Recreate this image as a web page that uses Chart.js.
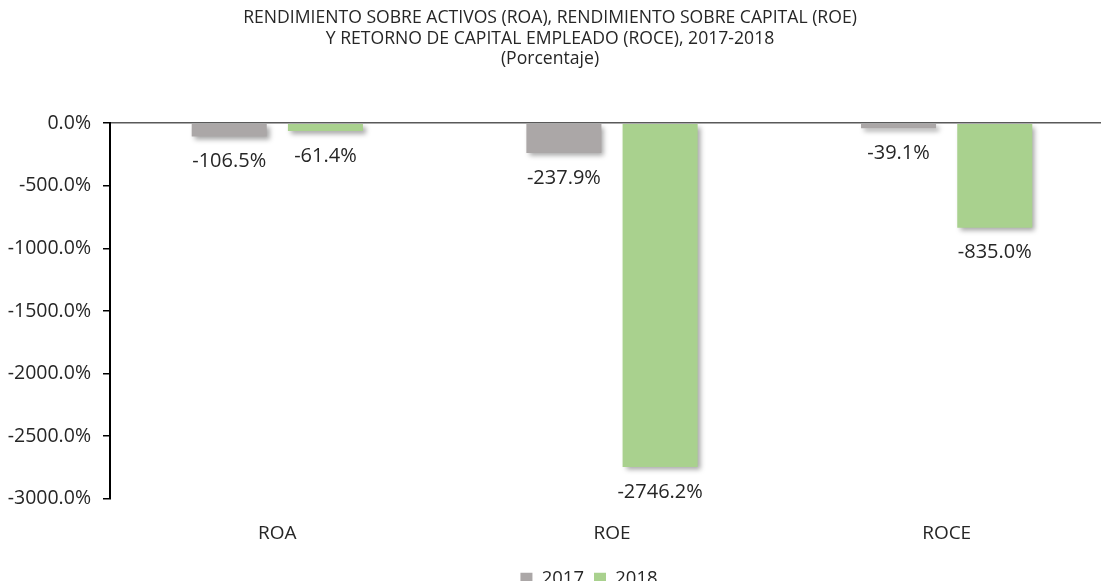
<!DOCTYPE html>
<html>
<head>
<meta charset="utf-8">
<script src="https://cdn.jsdelivr.net/npm/chart.js@4"></script>
<style>
  html, body { margin: 0; padding: 0; background: #fff; overflow: hidden; }
  .wrap { width: 1101px; height: 581px; overflow: hidden; }
  .box { width: 1116px; height: 598px; position: relative; }
</style>
</head>
<body>
<div class="wrap"><div class="box"><canvas id="roaChart"></canvas></div></div>
<script>
// chart data
const categories = ['ROA', 'ROE', 'ROCE'];
const seriesNames = ['2017', '2018'];
const values2017 = [-106.5, -237.9, -39.1];
const values2018 = [-61.4, -2746.2, -835.0];
const yTicks = [0, -500, -1000, -1500, -2000, -2500, -3000];

const titleLines = [
    'RENDIMIENTO SOBRE ACTIVOS (ROA), RENDIMIENTO SOBRE CAPITAL (ROE)',
    'Y RETORNO DE CAPITAL EMPLEADO (ROCE), 2017-2018',
    '(Porcentaje)'
];

const FONT = "'Open Sans', sans-serif";
const TEXT = '#262626';

// shadow under the bars + value labels below each bar
const barExtras = {
    id: 'barExtras',
    beforeDatasetsDraw(chart) {
        const ctx = chart.ctx;
        ctx.save();
        ctx.shadowColor = 'rgba(0, 0, 0, 0.35)';
        ctx.shadowBlur = 5;
        ctx.shadowOffsetX = 3;
        ctx.shadowOffsetY = 3;
    },
    afterDatasetsDraw(chart) {
        const ctx = chart.ctx;
        ctx.restore();
        ctx.save();
        ctx.font = '20px ' + FONT;
        ctx.fillStyle = TEXT;
        ctx.textAlign = 'center';
        ctx.textBaseline = 'middle';
        chart.data.datasets.forEach((ds, i) => {
            chart.getDatasetMeta(i).data.forEach((bar, j) => {
                ctx.fillText(ds.data[j].toFixed(1) + '%', bar.x, bar.y + 25);
            });
        });
        ctx.restore();
    }
};

// title and legend are not centred on the same x in the original
const nudgeBoxes = {
    id: 'nudgeBoxes',
    afterLayout(chart) {
        chart.titleBlock.left -= 11;
        chart.titleBlock.right -= 11;
        chart.legend.left += 28;
        chart.legend.right += 28;
    }
};

const ctx = document.getElementById('roaChart').getContext('2d');
new Chart(ctx, {
    type: 'bar',
    data: {
        labels: categories,
        datasets: [{
            label: seriesNames[0],
            data: values2017,
            backgroundColor: '#aba7a7',
            barPercentage: 0.78,
            categoryPercentage: 0.575
        }, {
            label: seriesNames[1],
            data: values2018,
            backgroundColor: '#a9d18e',
            barPercentage: 0.78,
            categoryPercentage: 0.575
        }]
    },
    options: {
        responsive: true,
        maintainAspectRatio: false,
        animation: false,
        layout: {
            padding: { left: 8, right: 2, top: 0, bottom: 0 }
        },
        plugins: {
            title: {
                display: true,
                text: titleLines,
                color: TEXT,
                font: { family: FONT, size: 17.6, weight: 'normal', lineHeight: 1.16 },
                padding: { top: 8, bottom: 54 }
            },
            legend: {
                position: 'bottom',
                labels: {
                    color: TEXT,
                    boxWidth: 12,
                    boxHeight: 12,
                    padding: 10,
                    font: { family: FONT, size: 18.5 }
                }
            },
            tooltip: { enabled: false }
        },
        scales: {
            x: {
                grid: { display: false },
                border: { display: false },
                ticks: {
                    color: TEXT,
                    padding: 15,
                    font: { family: FONT, size: 19 }
                }
            },
            y: {
                min: -3000,
                max: 0,
                afterBuildTicks: scale => {
                    scale.ticks = yTicks.map(v => ({ value: v }));
                },
                afterFit: scale => { scale.width = 102; },
                border: { color: '#000', width: 2 },
                grid: {
                    drawOnChartArea: true,
                    tickLength: 7,
                    tickColor: '#000',
                    lineWidth: 1.5,
                    color: c => (c.tick && c.tick.value === 0) ? '#595959' : 'rgba(0,0,0,0)'
                },
                ticks: {
                    color: TEXT,
                    padding: 12,
                    font: { family: FONT, size: 19.5 },
                    callback: v => v.toFixed(1) + '%'
                }
            }
        }
    },
    plugins: [barExtras, nudgeBoxes]
});
</script>
</body>
</html>
